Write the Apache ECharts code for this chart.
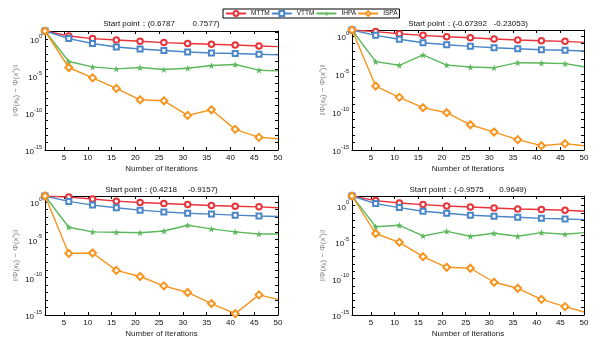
<!DOCTYPE html>
<html><head><meta charset="utf-8">
<script src="https://cdn.jsdelivr.net/npm/echarts@6/dist/echarts.min.js"></script>
<style>html,body{margin:0;padding:0;background:#fff}#c{width:601px;height:346px}</style>
</head><body><div id="c"></div>
<script>
const iters = [1, 6, 11, 16, 21, 26, 31, 36, 41, 46, 50];
const xTicks = [5, 10, 15, 20, 25, 30, 35, 40, 45, 50];
const names = ['MTTM', 'VTTM', 'IHPA', 'ISPA'];
const titles = [
  'Start point\uFF1A(0.6787        0.7577)',
  'Start point\uFF1A(-0.67392   -0.23053)',
  'Start point\uFF1A(0.4218     -0.9157)',
  'Start point\uFF1A(-0.9575       0.9649)'
];
const yMax = [13.2, 6.2, 6.3, 21];
const yMin = 1e-15;

const p1_MTTM = [13.2, 2.8, 1.23, 0.81, 0.54, 0.355, 0.263, 0.209, 0.17, 0.123, 0.102];
const p1_VTTM = [13.2, 1.23, 0.263, 0.091, 0.049, 0.0295, 0.019, 0.0141, 0.0117, 0.0093, 0.0076];
const p1_IHPA = [13.2, 9.8e-4, 1.8e-4, 9.8e-5, 1.5e-4, 8.1e-5, 1.2e-4, 2.8e-4, 3.8e-4, 6.5e-5, 5.2e-5];
const p1_ISPA = [13.2, 1.5e-4, 5.9e-6, 2.2e-7, 6.3e-9, 4.6e-9, 4.9e-11, 2.8e-10, 6.3e-13, 5.2e-14, 3.4e-14];

const p2_MTTM = [6.2, 3.8, 2.0, 1.23, 0.81, 0.60, 0.41, 0.295, 0.24, 0.20, 0.148];
const p2_VTTM = [6.2, 1.23, 0.37, 0.132, 0.072, 0.0437, 0.0288, 0.0214, 0.0158, 0.0132, 0.0107];
const p2_IHPA = [6.2, 4.2e-4, 1.4e-4, 3.2e-3, 1.5e-4, 8.3e-5, 6.8e-5, 3.1e-4, 2.8e-4, 2.3e-4, 9.1e-5];
const p2_ISPA = [6.2, 2.6e-7, 8.5e-9, 3.7e-10, 8.1e-11, 2.1e-12, 2.3e-13, 2.3e-14, 3.7e-15, 6.8e-15, 3.7e-15];

const p3_MTTM = [6.3, 4.5, 2.5, 1.3, 0.85, 0.63, 0.47, 0.34, 0.28, 0.23, 0.17];
const p3_VTTM = [6.3, 1.2, 0.39, 0.17, 0.083, 0.049, 0.033, 0.025, 0.018, 0.014, 0.012];
const p3_IHPA = [6.3, 4.5e-4, 1.1e-4, 9.8e-5, 8.5e-5, 1.4e-4, 8.3e-4, 2.7e-4, 1.1e-4, 5.8e-5, 5.8e-5];
const p3_ISPA = [6.3, 1.5e-7, 1.7e-7, 8.3e-10, 1.3e-10, 7.4e-12, 9.8e-13, 3.3e-14, 1.5e-15, 4.7e-13, 1.2e-13];

const p4_MTTM = [21, 4.9, 2.3, 1.4, 0.89, 0.65, 0.48, 0.35, 0.29, 0.23, 0.17];
const p4_VTTM = [21, 1.9, 0.54, 0.17, 0.089, 0.048, 0.035, 0.025, 0.018, 0.015, 0.012];
const p4_IHPA = [21, 1.3e-3, 2.0e-3, 6.9e-5, 3.0e-4, 6.3e-5, 1.6e-4, 6.3e-5, 2.0e-4, 1.2e-4, 2.0e-4];
const p4_ISPA = [21, 1.5e-4, 9.3e-6, 1.0e-7, 3.5e-9, 2.6e-9, 3.1e-11, 4.6e-12, 1.4e-13, 1.4e-14, 2.6e-15];

const panels = [
  [p1_MTTM, p1_VTTM, p1_IHPA, p1_ISPA],
  [p2_MTTM, p2_VTTM, p2_IHPA, p2_ISPA],
  [p3_MTTM, p3_VTTM, p3_IHPA, p3_ISPA],
  [p4_MTTM, p4_VTTM, p4_IHPA, p4_ISPA]
];

const colors = ['#e8333a', '#4a86c8', '#5cb85c', '#f7941d'];
const STAR = 'path://M50,0 L61,35 L98,35 L68,57 L79,91 L50,70 L21,91 L32,57 L2,35 L39,35 Z';
const symbols = ['emptyCircle', 'emptyRect', STAR, 'emptyDiamond'];
const symSizes = [5.5, 5, 7, 7];

const FONT = 'Liberation Sans, Arial, sans-serif';
const grids = [
  {left: 45, top: 31, width: 233, height: 119},
  {left: 352, top: 30, width: 232, height: 120},
  {left: 45, top: 196, width: 233, height: 119},
  {left: 352, top: 196, width: 232, height: 119}
];
const titleTops = [20, 20, 186, 186];

function yLabel(v) {
  const e = Math.log10(v);
  const r = Math.round(e);
  if (Math.abs(e - r) > 1e-6 || r % 5 !== 0) return '';
  return '{b|10}{s|' + r + '}';
}

const xAxis = [], yAxis = [], series = [], title = [];
for (let i = 0; i < 4; i++) {
  const g = grids[i];
  title.push({
    text: titles[i], left: g.left + g.width / 2, top: titleTops[i], textAlign: 'center', padding: 0,
    textStyle: {fontSize: 8, fontWeight: 'normal', color: '#111', fontFamily: FONT}
  });
  xAxis.push({
    type: 'value', gridIndex: i, min: 1, max: 50,
    name: 'Number of Iterations', nameLocation: 'middle', nameGap: 15,
    nameTextStyle: {fontSize: 8, color: '#222', fontFamily: FONT},
    axisLine: {show: true, lineStyle: {color: '#000', width: 1}},
    axisTick: {show: true, inside: true, length: 3, customValues: xTicks, lineStyle: {color: '#000'}},
    axisLabel: {fontSize: 8, color: '#111', margin: 4, fontFamily: FONT, customValues: xTicks},
    splitLine: {show: false}
  });
  yAxis.push({
    type: 'log', gridIndex: i, min: yMin, max: yMax[i], logBase: 10, interval: 1,
    name: '{n|\u2016\u03A6(}{i|x}{sb|k}{n|) \u2212 \u03A6(}{i|x}{sp|*}{n|)\u2016}',
    nameLocation: 'middle', nameGap: 25, nameRotate: 90,
    nameTextStyle: {
      color: '#888', fontFamily: FONT,
      rich: {
        n: {fontSize: 8, color: '#888'},
        i: {fontSize: 8, color: '#888', fontStyle: 'italic'},
        sb: {fontSize: 5, color: '#888', fontStyle: 'italic', verticalAlign: 'bottom'},
        sp: {fontSize: 5, color: '#888', verticalAlign: 'top'}
      }
    },
    axisLine: {show: true, lineStyle: {color: '#000', width: 1}},
    axisTick: {show: true, inside: true, length: 3, lineStyle: {color: '#000'}},
    axisLabel: {
      formatter: yLabel, margin: 3, color: '#111', fontFamily: FONT,
      showMinLabel: true, showMaxLabel: true,
      rich: {
        b: {fontSize: 8, color: '#111', verticalAlign: 'bottom', lineHeight: 12},
        s: {fontSize: 5.5, color: '#111', verticalAlign: 'top', lineHeight: 6}
      }
    },
    splitLine: {show: false}
  });
  for (let k = 0; k < 4; k++) {
    const vals = panels[i][k];
    series.push({
      name: names[k], type: 'line', xAxisIndex: i, yAxisIndex: i,
      data: iters.map((x, j) => [x, vals[j]]),
      color: colors[k],
      symbol: symbols[k],
      symbolSize: (v) => (v[0] === 50 ? 0 : symSizes[k]),
      showAllSymbol: true,
      lineStyle: {width: 1.4, color: colors[k]},
      itemStyle: {color: colors[k], borderWidth: 1},
      animation: false, z: 2 + k
    });
  }
}
// mirrored axes for the box with inward ticks
for (let i = 0; i < 4; i++) {
  xAxis.push({
    type: 'value', gridIndex: i, min: 1, max: 50, position: 'top',
    axisLine: {show: true, onZero: false, lineStyle: {color: '#000', width: 1}},
    axisTick: {show: true, inside: true, length: 3, customValues: xTicks, lineStyle: {color: '#000'}},
    axisLabel: {show: false, customValues: xTicks}, splitLine: {show: false}
  });
  yAxis.push({
    type: 'log', gridIndex: i, min: yMin, max: yMax[i], logBase: 10, interval: 1, position: 'right',
    axisLine: {show: true, onZero: false, lineStyle: {color: '#000', width: 1}},
    axisTick: {show: true, inside: true, length: 3, lineStyle: {color: '#000'}},
    axisLabel: {show: false}, splitLine: {show: false}
  });
}

const chart = echarts.init(document.getElementById('c'), null, {renderer: 'canvas'});
chart.setOption({
  animation: false,
  backgroundColor: '#fff',
  title: title,
  grid: grids,
  xAxis: xAxis,
  yAxis: yAxis,
  legend: {
    data: names, left: 223, top: 9, padding: [1, 2], itemGap: 1, itemWidth: 20, itemHeight: 6,
    borderColor: '#000', borderWidth: 1, backgroundColor: '#fff',
    textStyle: {fontSize: 6.5, color: '#111', fontFamily: FONT}
  },
  series: series
});
</script>
</body></html>
